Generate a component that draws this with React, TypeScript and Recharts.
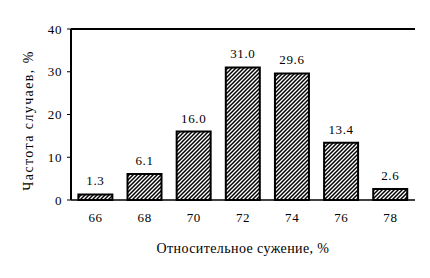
import React from 'react';
import { BarChart, Bar, XAxis, YAxis, LabelList, Label, ReferenceLine } from 'recharts';

// относительное сужение, % (категории)
const categories = ['66', '68', '70', '72', '74', '76', '78'];
// частота случаев, %
const frequency = [1.3, 6.1, 16.0, 31.0, 29.6, 13.4, 2.6];
const yTicks = [0, 10, 20, 30, 40];

const data = categories.map((c, i) => ({ name: c, value: frequency[i] }));

const family = 'Liberation Serif';
const font = { fontFamily: family, fontSize: 13, fill: '#000', letterSpacing: 0.6 };

const App: React.FC = () => {
  return (
    <div style={{ width: 422, height: 270, fontFamily: family }}>
      <BarChart
        width={422}
        height={270}
        data={data}
        margin={{ top: 21, right: 15, left: 0, bottom: 20 }}
        barCategoryGap="15%"
      >
        <defs>
          <pattern id="hatch" patternUnits="userSpaceOnUse" width="4" height="4">
            <rect width="4" height="4" fill="#fff" />
            <path d="M-1,1 l2,-2 M0,4 l4,-4 M3,5 l2,-2" stroke="#000" strokeWidth="1.5" />
          </pattern>
        </defs>
        <XAxis
          dataKey="name"
          height={58}
          tickLine={false}
          tickSize={6}
          tickMargin={7}
          axisLine={{ stroke: '#000', strokeWidth: 1.5 }}
          tick={font}
        >
          <Label
            value="Относительное сужение, %"
            position="insideBottom"
            offset={5}
            fontFamily={family}
            fontSize={14}
            letterSpacing={0.4}
            fill="#000"
          />
        </XAxis>
        <YAxis
          width={63}
          domain={[0, 40]}
          ticks={yTicks}
          tickSize={4}
          tickMargin={5}
          tickLine={{ stroke: '#000' }}
          axisLine={{ stroke: '#000', strokeWidth: 2 }}
          tick={font}
        >
          <Label
            value="Частота случаев, %"
            angle={-90}
            position="center"
            dx={-11.5}
            dy={6}
            fontFamily={family}
            fontSize={14}
            letterSpacing={1.4}
            fill="#000"
            textAnchor="middle"
          />
        </YAxis>
        <YAxis
          yAxisId="right"
          orientation="right"
          width={0}
          domain={[0, 40]}
          tick={false}
          tickLine={false}
          axisLine={{ stroke: '#000', strokeWidth: 2 }}
        />
        <ReferenceLine y={40} stroke="#000" strokeWidth={2} />
        <Bar
          dataKey="value"
          fill="url(#hatch)"
          stroke="#000"
          strokeWidth={2}
          isAnimationActive={false}
        >
          <LabelList
            dataKey="value"
            position="top"
            offset={9}
            formatter={(v: number) => v.toFixed(1)}
            fontFamily={family}
            fontSize={13}
            letterSpacing={0.6}
            fill="#000"
          />
        </Bar>
      </BarChart>
    </div>
  );
};

export default App;
